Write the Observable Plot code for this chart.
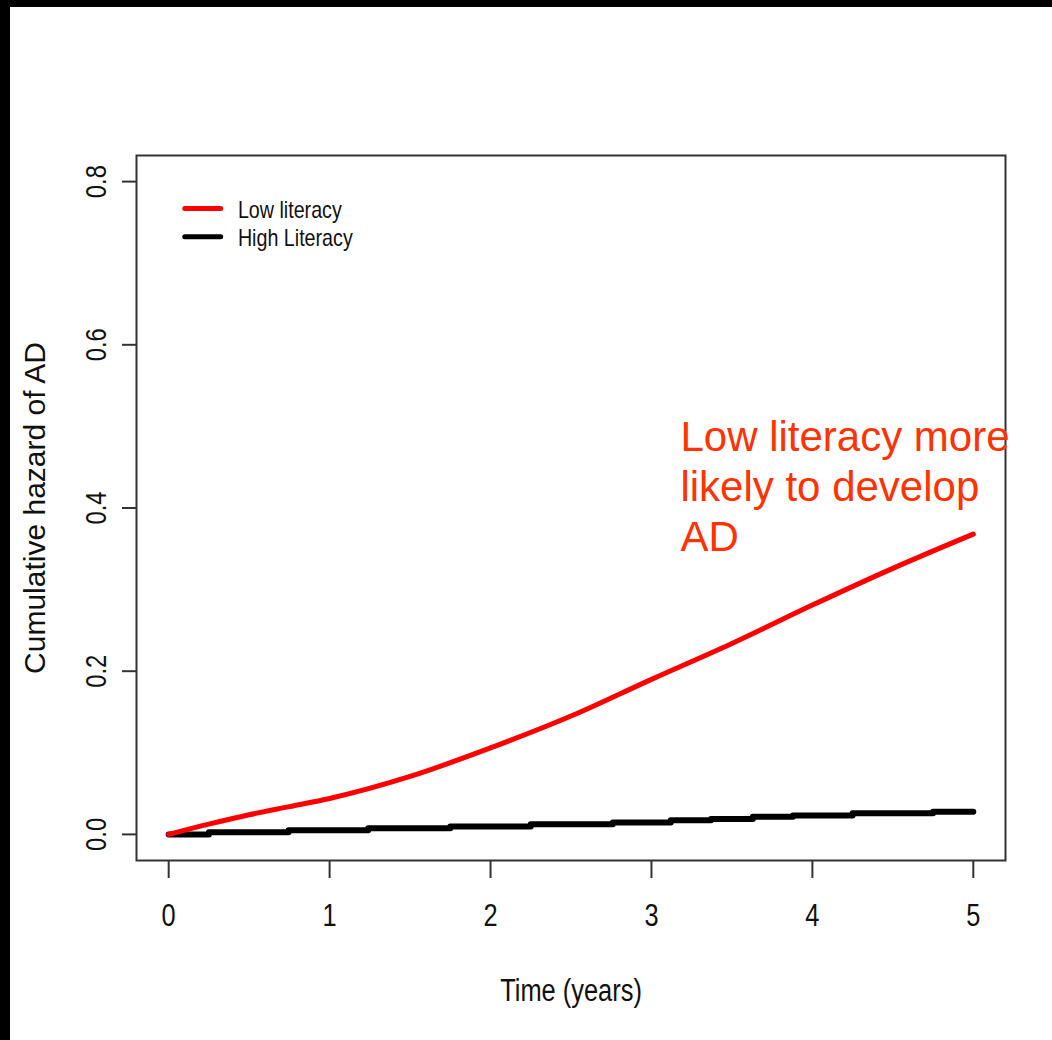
<!DOCTYPE html>
<html>
<head>
<meta charset="utf-8">
<script src="https://cdn.jsdelivr.net/npm/d3@7"></script>
<script src="https://cdn.jsdelivr.net/npm/@observablehq/plot@0.6"></script>
<style>
  html, body { margin: 0; padding: 0; background: #fff; }
  #wrap { border-top: 7px solid #000; border-left: 10px solid #000; width: 1042px; height: 1033px; background: #fff; }
  svg { display: block; }
</style>
</head>
<body>
<div id="wrap"></div>
<script>
// ---- data ----
const xTicks = [0, 1, 2, 3, 4, 5];
const yTicks = [0, 0.2, 0.4, 0.6, 0.8];

const lowTime   = [0, 0.25, 0.5, 0.75, 1, 1.5, 2, 2.5, 3, 3.5, 4, 4.5, 5];
const lowHazard = [0, 0.0125, 0.024, 0.034, 0.044, 0.071, 0.106, 0.145, 0.19, 0.234, 0.281, 0.326, 0.368];

const highTime   = [0, 0.25, 0.745, 1.24, 1.75, 2.25, 2.76, 3.12, 3.37, 3.63, 3.88, 4.25, 4.75, 5.0];
const highHazard = [0, 0.0025, 0.005, 0.0075, 0.0098, 0.0123, 0.0147, 0.0172, 0.019, 0.0215, 0.0233, 0.0258, 0.0276, 0.0276];

const seriesNames = ["Low literacy", "High Literacy"];
const seriesColors = ["#ff0000", "#000000"];

const xTitle = "Time (years)";
const yTitle = "Cumulative hazard of AD";
const annotation = ["Low literacy more", "likely to develop", "AD"];

// legend layout (data units)
const legendX = [0.1, 0.323];
const legendTextX = 0.43;
const legendY = [0.767, 0.7325];
// annotation anchor (data units)
const annotX = 3.18, annotY = 0.513;

const low = lowTime.map((t, i) => ({t, v: lowHazard[i]}));
const high = highTime.map((t, i) => ({t, v: highHazard[i]}));
const legend = seriesNames.map((name, i) => ({name, color: seriesColors[i], y: legendY[i]}));

const regular = "'Liberation Sans', Arial, sans-serif";

const chart = Plot.plot({
  width: 1042,
  height: 1033,
  marginLeft: 126,
  marginRight: 47,
  marginTop: 148,
  marginBottom: 180,
  style: {background: "#fff", fontFamily: regular, color: "#222"},
  x: {domain: [-0.2, 5.2]},
  y: {domain: [-0.032, 0.832]},
  marks: [
    Plot.frame({stroke: "#333", strokeWidth: 2}),
    Plot.axisX({ticks: xTicks, tickSize: 18, tickPadding: 25, tickFormat: d => String(d),
      fontSize: 31, label: null, stroke: "#333", strokeWidth: 2, fill: "#111"}),
    Plot.axisY({ticks: yTicks, tickSize: 14, tickPadding: 17, tickRotate: -90, tickFormat: d3.format(".1f"),
      fontSize: 29, label: null, stroke: "#333", strokeWidth: 2, fill: "#111"}),
    Plot.text([xTitle], {frameAnchor: "bottom", textAnchor: "middle", lineAnchor: "middle", dy: 131,
      fontSize: 31, fill: "#111"}),
    Plot.text([yTitle], {frameAnchor: "left", textAnchor: "middle", lineAnchor: "middle", dx: -101, rotate: -90,
      fontSize: 30, fill: "#111"}),
    Plot.line(high, {x: "t", y: "v", curve: "step-after", stroke: seriesColors[1], strokeWidth: 6, strokeLinecap: "round"}),
    Plot.line(low, {x: "t", y: "v", curve: "monotone-x", stroke: seriesColors[0], strokeWidth: 5, strokeLinecap: "round"}),
    Plot.link(legend, {x1: () => legendX[0], x2: () => legendX[1], y1: "y", y2: "y", stroke: "color", strokeWidth: 5, strokeLinecap: "round"}),
    Plot.text(legend, {x: () => legendTextX, y: "y", text: "name", textAnchor: "start", dy: 2, fontSize: 24,
      fill: "#111"}),
    Plot.text([annotation.join("\n")], {x: () => annotX, y: () => annotY, textAnchor: "start", lineAnchor: "top",
      lineHeight: 1.19, fontSize: 42, fill: "#ff3300"})
  ]
});
document.getElementById("wrap").appendChild(chart);

// emulate the condensed (Arial Narrow-like) face of the original
const narrowTexts = new Set([xTitle, ...seriesNames]);
const narrowEls = [
  ...chart.querySelectorAll('[aria-label="x-axis tick label"] text, [aria-label="y-axis tick label"] text'),
  ...Array.from(chart.querySelectorAll("text")).filter(el => narrowTexts.has(el.textContent))
];
narrowEls.forEach(el => {
  const w = el.getComputedTextLength();
  el.setAttribute("textLength", (w * 0.82).toFixed(2));
  el.setAttribute("lengthAdjust", "spacingAndGlyphs");
});
</script>
</body>
</html>
